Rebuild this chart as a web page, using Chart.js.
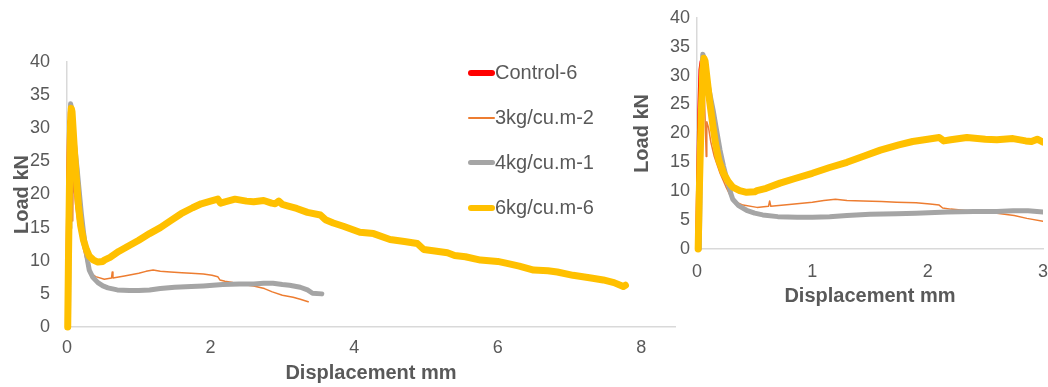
<!DOCTYPE html>
<html>
<head>
<meta charset="utf-8">
<script src="https://cdn.jsdelivr.net/npm/chart.js@4.4.1/dist/chart.umd.min.js"></script>
<style>
  body { margin: 0; background: #fff; width: 1048px; height: 387px; overflow: hidden; position: relative;
         font-family: "Liberation Sans", Arial, sans-serif; }
  #left { position: absolute; left: 0; top: 0; }
  #right { position: absolute; left: 600px; top: 0; }
  #legend { position: absolute; left: 468px; top: 50px; color: #595959; font-size: 20px; }
  .row { display: flex; align-items: center; height: 45px; }
  .sw { width: 27px; }
</style>
</head>
<body>
<canvas id="left" width="690" height="387"></canvas>
<canvas id="right" width="470" height="312"></canvas>
<div id="legend"></div>
<script>
// series, bottom to top
const seriesNames = ['Control-6', '3kg/cu.m-2', '4kg/cu.m-1', '6kg/cu.m-6'];
const seriesColors = ['#ff0000', '#ed7d31', '#a5a5a5', '#ffc000'];
const seriesWidths = [4, 1.5, 5, 7];
const legendWidths = [6, 2, 5, 6];

// displacement (mm) / load (kN)
const control6X = [0, 0.01, 0.02, 0.03, 0.04, 0.05, 0.06];
const control6Y = [0, 12, 24, 31, 32.5, 30, 27];

const kg3X = [0.005, 0.015, 0.025, 0.035, 0.05, 0.065, 0.08, 0.085, 0.1, 0.12, 0.15, 0.2, 0.25, 0.29, 0.35, 0.4,
  0.52, 0.62, 0.63, 0.64, 0.8, 1.0, 1.1, 1.2, 1.3, 1.44, 1.6, 1.73, 1.9, 2.02, 2.1, 2.13, 2.2, 2.31, 2.45, 2.6,
  2.75, 2.86, 3.0, 3.15, 3.25, 3.36];
const kg3Y = [0, 18, 29, 32, 30, 26, 16, 22, 21, 18.5, 16, 13.1, 10.8, 9.2, 8.0, 7.6,
  7.2, 7.4, 8.3, 7.4, 7.7, 8.1, 8.4, 8.6, 8.4, 8.3, 8.2, 8.1, 8.0, 7.8, 7.6, 7.1, 6.9, 6.7, 6.4, 6.2,
  5.8, 5.3, 4.8, 4.5, 4.2, 3.8];

const kg4X = [0.02, 0.03, 0.04, 0.05, 0.06, 0.08, 0.11, 0.14, 0.17, 0.2, 0.23, 0.26, 0.29, 0.31, 0.36, 0.43,
  0.5, 0.57, 0.7, 0.87, 1.0, 1.15, 1.3, 1.5, 1.73, 1.9, 2.17, 2.4, 2.6, 2.74, 2.87, 3.0, 3.1, 3.25, 3.35, 3.42, 3.55];
const kg4Y = [0, 15, 28, 33.7, 33.2, 30, 27, 24, 20.5, 17.1, 14.3, 11.9, 9.8, 8.6, 7.5, 6.7,
  6.2, 5.9, 5.6, 5.5, 5.5, 5.6, 5.8, 6.0, 6.1, 6.2, 6.4, 6.5, 6.5, 6.6, 6.6, 6.4, 6.3, 6.0, 5.6, 5.1, 5.0];

const kg6X = [0.01, 0.02, 0.035, 0.05, 0.06, 0.07, 0.09, 0.11, 0.14, 0.16, 0.19, 0.23, 0.27, 0.31, 0.37, 0.43,
  0.5, 0.52, 0.6, 0.72, 0.85, 1.0, 1.15, 1.3, 1.45, 1.59, 1.75, 1.87, 2.0, 2.1, 2.14, 2.2, 2.34, 2.5, 2.6, 2.74,
  2.85, 2.9, 2.95, 3.0, 3.07, 3.2, 3.35, 3.53, 3.6, 3.71, 3.85, 4.08, 4.27, 4.5, 4.7, 4.88, 4.97, 5.1, 5.3, 5.4,
  5.55, 5.76, 6.0, 6.13, 6.3, 6.5, 6.7, 6.83, 7.05, 7.3, 7.47, 7.62, 7.75, 7.78];
const kg6Y = [0, 10, 22, 31, 33, 32.5, 29, 25.5, 21, 18.3, 15.3, 13.1, 11.7, 10.7, 10.1, 9.8,
  9.9, 10.1, 10.5, 11.4, 12.2, 13.1, 14.1, 15.0, 16.1, 17.1, 18.0, 18.6, 19.0, 19.3, 18.7, 18.9, 19.3, 19.0, 18.9, 19.1,
  18.7, 18.6, 19.0, 18.5, 18.3, 17.9, 17.3, 16.9, 16.2, 15.7, 15.2, 14.3, 14.1, 13.2, 12.9, 12.6, 11.7, 11.5, 11.2, 10.8,
  10.6, 10.1, 9.9, 9.6, 9.2, 8.6, 8.5, 8.3, 7.8, 7.4, 7.1, 6.7, 6.1, 6.3];

const seriesX = [control6X, kg3X, kg4X, kg6X];
const seriesY = [control6Y, kg3Y, kg4Y, kg6Y];

const yTicks = [0, 5, 10, 15, 20, 25, 30, 35, 40];
const leftXTicks = [0, 2, 4, 6, 8];
const rightXTicks = [0, 1, 2, 3];

const textColor = '#595959';
Chart.defaults.font.family = '"Liberation Sans", Arial, sans-serif';
Chart.defaults.color = textColor;

function makeDatasets() {
  return seriesNames.map((name, i) => ({
    label: name,
    data: seriesX[i].map((x, j) => ({ x: x, y: seriesY[i][j] })),
    borderColor: seriesColors[i],
    backgroundColor: seriesColors[i],
    borderWidth: seriesWidths[i],
    borderJoinStyle: 'round',
    borderCapStyle: 'round',
    pointRadius: 0,
    tension: 0,
    fill: false,
    order: seriesNames.length - 1 - i,
    clip: { left: 6, top: 6, right: 0, bottom: 6 }
  }));
}

function makeOptions(cfg) {
  return {
    responsive: false,
    animation: false,
    devicePixelRatio: 1,
    layout: { padding: cfg.padding },
    plugins: { legend: { display: false }, tooltip: { enabled: false } },
    scales: {
      x: {
        type: 'linear', min: 0, max: cfg.xMax,
        afterBuildTicks: s => { s.ticks = cfg.xTicks.map(v => ({ value: v })); },
        afterFit: s => { s.height = cfg.xAxisHeight; },
        grid: { display: false, drawTicks: false },
        border: { color: '#d9d9d9', width: 1.5 },
        ticks: { font: { size: 18 }, color: textColor, padding: cfg.xTickPad, maxRotation: 0, autoSkip: false },
        title: { display: true, text: 'Displacement mm', color: textColor,
                 font: { size: 20, weight: 'bold' }, padding: { top: 0, bottom: cfg.xTitlePad } }
      },
      y: {
        type: 'linear', min: 0, max: 40,
        afterBuildTicks: s => { s.ticks = yTicks.map(v => ({ value: v })); },
        afterFit: s => { s.width = cfg.yAxisWidth; },
        grid: { display: false, drawTicks: false },
        border: { color: '#d9d9d9', width: 1.5 },
        ticks: { font: { size: 18 }, color: textColor, padding: cfg.yTickPad },
        title: { display: true, text: 'Load kN', color: textColor,
                 font: { size: 20, weight: 'bold' }, padding: { top: 2, bottom: 0 } }
      }
    }
  };
}

new Chart(document.getElementById('left'), {
  type: 'line',
  data: { datasets: makeDatasets() },
  options: makeOptions({
    padding: { left: 8, top: 62, right: 15, bottom: 0 },
    xMax: 8.47, xTicks: leftXTicks, xAxisHeight: 60, xTickPad: 10, xTitlePad: 2,
    yAxisWidth: 59, yTickPad: 17
  })
});

// right canvas runs past the page edge so the "3" label is cut like in the original
new Chart(document.getElementById('right'), {
  type: 'line',
  data: { datasets: makeDatasets() },
  options: makeOptions({
    padding: { left: 28, top: 17, right: 27, bottom: 0 },
    xMax: 3, xTicks: rightXTicks, xAxisHeight: 63, xTickPad: 12, xTitlePad: 4,
    yAxisWidth: 69, yTickPad: 7
  })
});

// legend, same order as the series
const legend = document.getElementById('legend');
seriesNames.forEach((name, i) => {
  const row = document.createElement('div');
  row.className = 'row';
  const sw = document.createElement('div');
  sw.className = 'sw';
  sw.style.height = legendWidths[i] + 'px';
  sw.style.background = seriesColors[i];
  sw.style.borderRadius = (legendWidths[i] / 2) + 'px';
  const label = document.createElement('span');
  label.textContent = name;
  row.appendChild(sw);
  row.appendChild(label);
  legend.appendChild(row);
});
</script>
</body>
</html>
